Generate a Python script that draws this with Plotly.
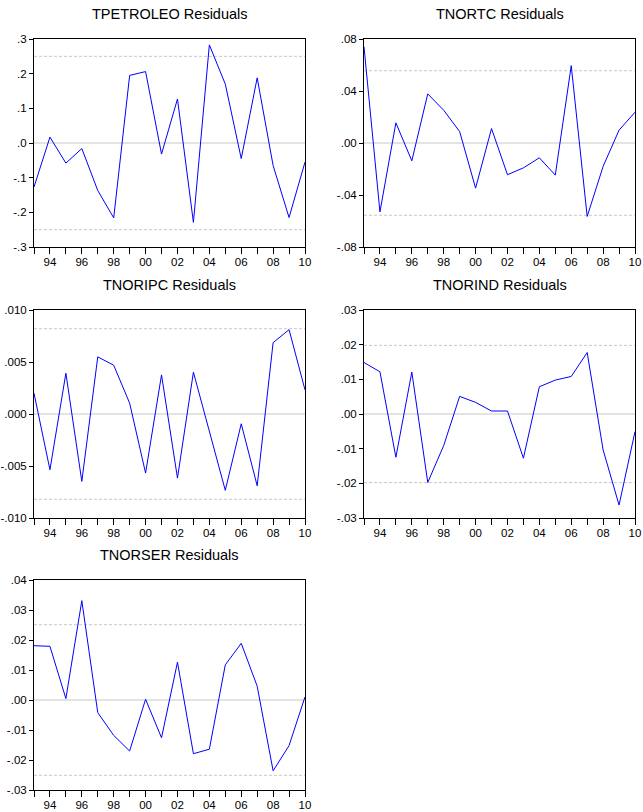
import plotly.graph_objects as go
from plotly.subplots import make_subplots

years = list(range(1993, 2011))

titles = ["TPETROLEO Residuals", "TNORTC Residuals", "TNORIPC Residuals",
          "TNORIND Residuals", "TNORSER Residuals"]

tpetroleo = [-0.127, 0.017, -0.058, -0.016, -0.137, -0.216, 0.195, 0.206, -0.032,
             0.127, -0.229, 0.283, 0.170, -0.045, 0.188, -0.065, -0.215, -0.055]
tnortc = [0.074, -0.053, 0.0155, -0.0137, 0.0378, 0.0252, 0.0088, -0.0347, 0.0111,
          -0.0244, -0.0191, -0.0114, -0.0247, 0.0595, -0.0565, -0.018, 0.0099, 0.0237]
tnoripc = [0.0020, -0.00536, 0.00392, -0.00648, 0.00549, 0.00469, 0.00104, -0.00568,
           0.00376, -0.00616, 0.00402, -0.00168, -0.00734, -0.00094, -0.0069, 0.00686,
           0.00811, 0.00232]
tnorind = [0.01486, 0.01217, -0.01246, 0.01208, -0.01975, -0.0091, 0.00508, 0.00335,
           0.00086, 0.00086, -0.01275, 0.00786, 0.00978, 0.01083, 0.01773, -0.01035,
           -0.02626, -0.00508]
tnorser = [0.0181, 0.0179, 0.00048, 0.0331, -0.0042, -0.0118, -0.017, 0.00026, -0.0126,
           0.0126, -0.0179, -0.0164, 0.0117, 0.0189, 0.0046, -0.0236, -0.0152, 0.00104]

series = [tpetroleo, tnortc, tnoripc, tnorind, tnorser]
bands = [0.25, 0.0556, 0.0082, 0.0198, 0.0251]

ytickvals = [
    [-0.3, -0.2, -0.1, 0.0, 0.1, 0.2, 0.3],
    [-0.08, -0.04, 0.0, 0.04, 0.08],
    [-0.010, -0.005, 0.0, 0.005, 0.010],
    [-0.03, -0.02, -0.01, 0.0, 0.01, 0.02, 0.03],
    [-0.03, -0.02, -0.01, 0.0, 0.01, 0.02, 0.03, 0.04],
]
yticktext = [
    ["-.3", "-.2", "-.1", ".0", ".1", ".2", ".3"],
    ["-.08", "-.04", ".00", ".04", ".08"],
    ["-.010", "-.005", ".000", ".005", ".010"],
    ["-.03", "-.02", "-.01", ".00", ".01", ".02", ".03"],
    ["-.03", "-.02", "-.01", ".00", ".01", ".02", ".03", ".04"],
]
yranges = [[-0.3, 0.3], [-0.08, 0.08], [-0.010, 0.010], [-0.03, 0.03], [-0.03, 0.04]]

xtickvals = years
xticktext = [("%02d" % (y % 100)) if y % 2 == 0 else "" for y in years]

W, H = 643, 812
# pixel boxes (x0, x1, ytop, ybottom)
boxes = [(34, 305, 39, 247), (364, 635, 39, 247),
         (34, 305, 310, 518), (364, 635, 310, 518),
         (34, 305, 580, 790)]
title_y = [14, 14, 285, 285, 555]
positions = [(1, 1), (1, 2), (2, 1), (2, 2), (3, 1)]

fig = make_subplots(rows=3, cols=2)
font = "Liberation Sans, Arial, sans-serif"

for i, (vals, band) in enumerate(zip(series, bands)):
    r, c = positions[i]
    x0, x1, yt, yb = boxes[i]
    # zero line and bands
    for lv, dash in [(0.0, "solid"), (band, "3px,2px"), (-band, "3px,2px")]:
        fig.add_trace(go.Scatter(x=[years[0], years[-1]], y=[lv, lv], mode="lines",
                                 line=dict(color="#c8c8c8", width=1, dash=dash),
                                 hoverinfo="skip", showlegend=False), row=r, col=c)
    fig.add_trace(go.Scatter(x=years, y=vals, mode="lines",
                             line=dict(color="#0000ff", width=1),
                             showlegend=False), row=r, col=c)
    fig.update_xaxes(domain=[x0 / W, x1 / W], range=[years[0], years[-1]],
                     tickmode="array", tickvals=xtickvals, ticktext=xticktext,
                     ticks="outside", ticklen=6, tickcolor="black", tickwidth=1,
                     ticklabelstandoff=-2, ticklabeloverflow="allow",
                     showline=True, linecolor="black", linewidth=1, mirror=True,
                     showgrid=False, zeroline=False, automargin=False,
                     tickfont=dict(family=font, size=11.5, color="black"),
                     row=r, col=c)
    fig.update_yaxes(domain=[1 - yb / H, 1 - yt / H], range=yranges[i],
                     tickmode="array", tickvals=ytickvals[i], ticktext=yticktext[i],
                     ticks="outside", ticklen=4, tickcolor="black", tickwidth=1,
                     ticklabeloverflow="allow",
                     showline=True, linecolor="black", linewidth=1, mirror=True,
                     showgrid=False, zeroline=False, automargin=False,
                     tickfont=dict(family=font, size=11.5, color="black"),
                     row=r, col=c)
    fig.add_annotation(text=titles[i], xref="paper", yref="paper",
                       x=(x0 + x1) / 2 / W, y=1 - title_y[i] / H,
                       xanchor="center", yanchor="middle", showarrow=False,
                       font=dict(family=font, size=14.5, color="black"))

fig.update_xaxes(visible=False, row=3, col=2)
fig.update_yaxes(visible=False, row=3, col=2)

fig.update_layout(width=W, height=H, margin=dict(l=0, r=0, t=0, b=0),
                  plot_bgcolor="white", paper_bgcolor="white", hovermode=False)
fig.write_html("out.html", config={"displayModeBar": False},
               post_script="document.body.style.margin='0';document.body.style.overflow='hidden';")
